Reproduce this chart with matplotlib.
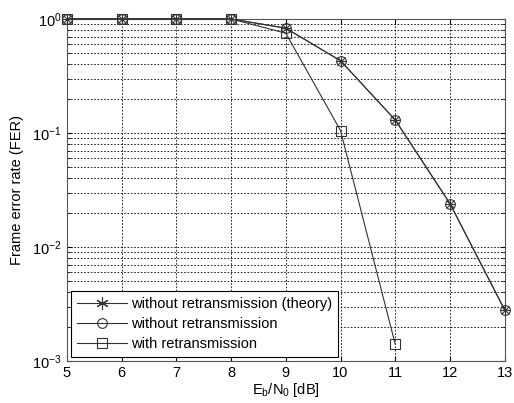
import numpy as np
import matplotlib
matplotlib.use('Agg')
import matplotlib.pyplot as plt
from matplotlib.ticker import LogLocator, NullFormatter
from matplotlib.lines import Line2D

snr = [5, 6, 7, 8, 9, 10, 11, 12, 13]
fer_theory = [1.0, 1.0, 1.0, 1.0, 0.83, 0.43, 0.13, 0.024, 0.0028]
fer_noretx = [1.0, 1.0, 1.0, 1.0, 0.83, 0.43, 0.13, 0.024, 0.0028]
snr_retx = [5, 6, 7, 8, 9, 10, 11]
fer_retx = [1.0, 1.0, 1.0, 1.0, 0.75, 0.105, 0.0014]

plt.rcParams['font.family'] = ['Liberation Sans', 'DejaVu Sans']
plt.rcParams['mathtext.fontset'] = 'custom'
plt.rcParams['mathtext.rm'] = 'Liberation Sans'
plt.rcParams['mathtext.it'] = 'Liberation Sans'

fig = plt.figure(figsize=(5.14, 4.03), dpi=100)
ax = fig.add_axes([0.130, 0.104, 0.852, 0.849])

c = '#333333'
# theory: star made of x and +
ax.semilogy(snr, fer_theory, '-', color=c, lw=0.8, marker='x', ms=6, mew=0.8,
            clip_on=False, zorder=3)
ax.semilogy(snr, fer_theory, ' ', marker='+', ms=7, mew=0.8, mec=c, clip_on=False, zorder=3)
ax.semilogy(snr, fer_noretx, '-', color=c, lw=0.8, marker='o', ms=7, mew=0.8,
            mfc='none', mec=c, clip_on=False, zorder=3)
ax.semilogy(snr_retx, fer_retx, '-', color=c, lw=0.8, marker='s', ms=7, mew=0.8,
            mfc='none', mec=c, clip_on=False, zorder=3)

ax.set_xlim(5, 13)
ax.set_ylim(1e-3, 1)
ax.set_xticks(snr)
ax.yaxis.set_major_locator(LogLocator(base=10, numticks=10))
ax.yaxis.set_minor_locator(LogLocator(base=10, subs=np.arange(2, 10), numticks=10))
ax.yaxis.set_minor_formatter(NullFormatter())
ax.grid(True, which='both', linestyle=(0, (2, 2)), color='black', lw=0.6)
ax.tick_params(direction='in', which='both', labelsize=10.5, top=True, right=True)
for s in ax.spines.values():
    s.set_color('#555555')

ax.set_xlabel('E$_b$/N$_0$ [dB]', fontsize=10.5, labelpad=1)
ax.set_ylabel('Frame error rate (FER)', fontsize=10.5, labelpad=6)

star = Line2D([], [], color=c, lw=0.8, marker=(6, 2, 0), ms=9, mew=0.8)
circ = Line2D([], [], color=c, lw=0.8, marker='o', ms=7, mew=0.8, mfc='none', mec=c)
sq = Line2D([], [], color=c, lw=0.8, marker='s', ms=7, mew=0.8, mfc='none', mec=c)
leg = ax.legend([star, circ, sq],
                ['without retransmission (theory)', 'without retransmission',
                 'with retransmission'],
                loc='lower left', fontsize=10.5, handlelength=3.4,
                fancybox=False, framealpha=1, edgecolor='black', borderaxespad=0.3,
                labelspacing=0.4, handletextpad=0.3, borderpad=0.4)
leg.get_frame().set_linewidth(0.8)
leg.set_zorder(5)

fig.savefig('out.png', dpi=100)
